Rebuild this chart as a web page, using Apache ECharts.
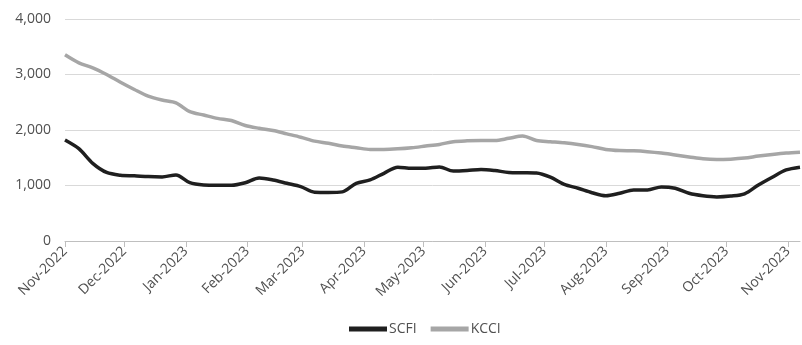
<!DOCTYPE html>
<html>
<head>
<meta charset="utf-8">
<script src="https://cdn.jsdelivr.net/npm/echarts@6/dist/echarts.min.js"></script>
<style>
  html, body { margin: 0; padding: 0; background: #fff; }
  #chart { width: 802px; height: 345px; }
</style>
</head>
<body>
<div id="chart"></div>
<script>
// Weekly index readings (Fridays)
const weeks = [
  '2022-11-04','2022-11-11','2022-11-18','2022-11-25','2022-12-02','2022-12-09','2022-12-16','2022-12-23',
  '2022-12-30','2023-01-06','2023-01-13','2023-01-20','2023-01-27','2023-02-03','2023-02-10','2023-02-17',
  '2023-02-24','2023-03-03','2023-03-10','2023-03-17','2023-03-24','2023-03-31','2023-04-07','2023-04-14',
  '2023-04-21','2023-04-28','2023-05-05','2023-05-12','2023-05-19','2023-05-26','2023-06-02','2023-06-09',
  '2023-06-16','2023-06-23','2023-06-30','2023-07-07','2023-07-14','2023-07-21','2023-07-28','2023-08-04',
  '2023-08-11','2023-08-18','2023-08-25','2023-09-01','2023-09-08','2023-09-15','2023-09-22','2023-09-29',
  '2023-10-06','2023-10-13','2023-10-20','2023-10-27','2023-11-03','2023-11-10'
];

const scfi = [
  1820, 1663, 1400, 1235, 1185, 1175, 1160, 1155,
  1190, 1050, 1010, 1005, 1005, 1050, 1135, 1100,
  1040, 980, 880, 875, 885, 1040, 1100, 1220,
  1330, 1310, 1310, 1335, 1260, 1270, 1290, 1270,
  1235, 1230, 1225, 1150, 1020, 950, 870, 815,
  860, 920, 920, 975, 950, 860, 815, 795,
  810, 850, 1010, 1150, 1280, 1330
];

const kcci = [
  3355, 3210, 3120, 3000, 2860, 2730, 2610, 2540,
  2490, 2330, 2270, 2210, 2170, 2080, 2030, 1990,
  1930, 1870, 1800, 1760, 1710, 1680, 1650, 1650,
  1660, 1680, 1710, 1740, 1790, 1805, 1810, 1810,
  1850, 1890, 1810, 1790, 1770, 1740, 1700, 1650,
  1630, 1625, 1610, 1585, 1550, 1515, 1480, 1467,
  1475, 1495, 1530, 1560, 1585, 1600
];

// Monthly axis marks
const monthTicks = [
  '2022-11-04','2022-12-04','2023-01-04','2023-02-04','2023-03-04','2023-04-04','2023-05-04',
  '2023-06-04','2023-07-04','2023-08-04','2023-09-04','2023-10-04','2023-11-04'
];

const yTicks = [0, 1000, 2000, 3000, 4000];

const MONTHS = ['Jan','Feb','Mar','Apr','May','Jun','Jul','Aug','Sep','Oct','Nov','Dec'];
const ts = s => { const p = s.split('-').map(Number); return Date.UTC(p[0], p[1] - 1, p[2]); };
const tickTs = monthTicks.map(ts);

const chart = echarts.init(document.getElementById('chart'), null, { renderer: 'canvas' });
const font = "'Open Sans', 'Noto Sans', sans-serif";
const textColor = '#505050';

chart.setOption({
  animation: false,
  backgroundColor: '#ffffff',
  grid: { left: 65, right: 2, top: 19, bottom: 104, containLabel: false },
  legend: {
    top: 317,
    left: 344,
    icon: 'rect',
    itemWidth: 38,
    itemHeight: 5,
    itemGap: 14,
    textStyle: { fontFamily: font, fontSize: 14, color: textColor, padding: [0, 0, 0, -3] },
    data: ['SCFI', 'KCCI']
  },
  xAxis: {
    type: 'value',
    min: ts(weeks[0]),
    max: ts(weeks[weeks.length - 1]),
    axisLine: { show: true, onZero: false, lineStyle: { color: '#bfbfbf', width: 1 } },
    axisTick: { show: true, length: 6, lineStyle: { color: '#bfbfbf' }, customValues: tickTs },
    splitLine: { show: false },
    axisLabel: {
      customValues: tickTs,
      rotate: 45,
      margin: 8,
      fontFamily: font,
      fontSize: 14,
      color: textColor,
      formatter: v => { const d = new Date(v); return MONTHS[d.getUTCMonth()] + '-' + d.getUTCFullYear(); }
    }
  },
  yAxis: {
    type: 'value',
    min: yTicks[0],
    max: yTicks[yTicks.length - 1],
    interval: 1000,
    axisLine: { show: false },
    axisTick: { show: false },
    splitLine: { lineStyle: { color: '#d9d9d9', width: 1 } },
    axisLabel: {
      margin: 14,
      fontFamily: font,
      fontSize: 14,
      color: textColor,
      formatter: v => v.toLocaleString('en-US')
    }
  },
  series: [
    {
      name: 'SCFI',
      type: 'line',
      data: weeks.map((d, i) => [ts(d), scfi[i]]),
      showSymbol: false,
      smooth: 0.3,
      lineStyle: { color: '#1f1f1f', width: 3.5 },
      itemStyle: { color: '#1f1f1f' }
    },
    {
      name: 'KCCI',
      type: 'line',
      data: weeks.map((d, i) => [ts(d), kcci[i]]),
      showSymbol: false,
      smooth: 0.3,
      lineStyle: { color: '#a6a6a6', width: 3.5 },
      itemStyle: { color: '#a6a6a6' }
    }
  ]
});
</script>
</body>
</html>
